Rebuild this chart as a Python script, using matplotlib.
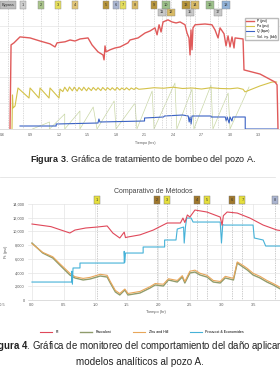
"""
Two stacked well charts from a report page: pumping treatment (Fig. 3)
and damage monitoring with analytical methods (Fig. 4).
"""
import matplotlib
matplotlib.use("Agg")
import matplotlib.pyplot as plt
from matplotlib.lines import Line2D

plt.rcParams['font.family'] = ['Liberation Sans', 'DejaVu Sans']
plt.rcParams['mathtext.fontset'] = 'custom'
plt.rcParams['mathtext.rm'] = 'Liberation Sans'
plt.rcParams['mathtext.bf'] = 'Liberation Sans:bold'

# ==========================================
# Figure 3 data (time in hours)
# ==========================================
t_p = [0.684, 0.695, 0.726, 0.789, 0.895, 1.0, 1.105, 1.158, 1.179, 1.263, 1.316, 1.368,
       1.421, 1.505, 1.547, 1.61, 1.663, 1.674, 1.684, 1.695, 1.737, 1.789, 1.842, 1.926,
       1.947, 2.032, 2.105, 2.158, 2.21, 2.232, 2.253, 2.274, 2.295, 2.347, 2.389, 2.432,
       2.474, 2.526, 2.547, 2.568, 2.579, 2.589, 2.6, 2.61, 2.632, 2.737, 2.81, 2.842,
       2.874, 2.895, 2.937, 2.958, 2.979, 3.0, 3.021, 3.042, 3.053, 3.137, 3.147, 3.316,
       3.474, 3.495, 3.505]
p_psi = [0, 3260, 3340, 3570, 3530, 3410, 3300, 3180, 3340, 3380, 3450, 3410,
         3490, 3530, 3260, 2990, 2870, 2680, 3220, 2990, 3070, 3140, 3180, 3340,
         3450, 3530, 3720, 3800, 3920, 3650, 4040, 3760, 4150, 4230, 4150, 4110,
         4150, 4040, 3720, 3530, 2870, 3840, 3070, 3920, 4040, 4070, 4040, 3840,
         3530, 3920, 3690, 3220, 3610, 3180, 3570, 3140, 3530, 3490, 2290, 2130,
         1820, 1710, 0]

t_pa = [0.705, 0.71, 0.716, 0.737, 0.768, 0.884, 0.895, 0.989, 1.0, 1.095, 1.105, 1.2,
        1.21, 1.24, 1.26, 1.29, 1.31, 1.34, 1.36, 1.39, 1.41, 1.44, 1.46, 1.49, 1.51,
        1.54, 1.56, 1.59, 1.61, 1.64, 1.66, 1.69, 1.71, 1.74, 1.76, 1.79, 1.81, 1.84,
        1.86, 1.89, 1.91, 1.94, 1.96, 1.99, 2.01, 2.04, 2.10, 2.20, 2.30, 2.40, 2.50,
        2.60, 2.70, 2.80, 2.90, 3.00, 3.08, 3.137, 3.158, 3.316, 3.442, 3.49]
pa_psi = [0, 1320, 815, 890, 1590, 1200, 1590, 1200, 1590, 1200, 1590, 1200,
          1550, 1450, 1620, 1460, 1630, 1480, 1620, 1470, 1610, 1490, 1620, 1480, 1600,
          1490, 1610, 1500, 1600, 1490, 1610, 1500, 1600, 1510, 1600, 1500, 1610, 1510,
          1590, 1520, 1600, 1510, 1590, 1530, 1600, 1540, 1560, 1600, 1580, 1620, 1570,
          1590, 1550, 1600, 1570, 1560, 1590, 1540, 1440, 1670, 1820, 1820]

t_q = [0.789, 1.17, 1.17, 1.61, 1.62, 1.63, 2.10, 2.10, 2.30, 2.31, 2.50, 2.56, 2.57,
       2.58, 2.59, 2.60, 2.80, 2.80, 2.95, 2.96, 2.97, 2.99, 3.00, 3.02, 3.03, 3.05,
       3.16, 3.16, 3.50]
q_bpm = [3, 3, 5, 6, 10, 7, 8, 11, 12, 13, 14, 13, 7,
         12, 5, 13, 13, 12, 12, 8, 12, 6, 12, 8, 12, 12,
         12, 0, 0]

t_vol = [0.92, 1.10, 1.10, 1.26, 1.26, 1.42, 1.42, 1.56, 1.60, 1.78, 1.80, 2.00,
         2.02, 2.18, 2.20, 2.42, 2.44, 2.60, 2.62, 2.80, 2.82, 2.98, 3.00, 3.20]
vol_bbl = [0, 7, 0, 15, 0, 18, 0, 22, 0, 28, 0, 26,
           0, 38, 0, 46, 0, 40, 0, 44, 0, 36, 0, 42]

f3_ticks = [0.6, 0.9, 1.2, 1.5, 1.8, 2.1, 2.4, 2.7, 3.0, 3.3]
f3_events = ['Bypass', '1', '2', '3', '4', '5', '6', '7', '8', '9', '10', '11', '12',
             '13', '14', '15', '16', '17', '18']
f3_event_t = [0.663, 0.821, 1.011, 1.189, 1.368, 1.695, 1.80, 1.874, 2.0, 2.2, 2.326,
              2.284, 2.379, 2.537, 2.632, 2.579, 2.789, 2.874, 2.958]
f3_event_row = [0, 0, 0, 0, 0, 0, 0, 0, 0, 0, 0, 1, 1, 0, 0, 1, 0, 1, 0]
f3_event_col = ['#bdbdbd', '#cfcfcf', '#a9c48a', '#e6df5c', '#e2c679', '#b8963c',
                '#aab6d2', '#e6df5c', '#d9bb66', '#b8963c', '#9cc08a', '#c8c8c8',
                '#d9bb66', '#b8963c', '#d9bb66', '#c8c8c8', '#9cc08a', '#c8c8c8',
                '#92b2d8']

# ==========================================
# Figure 4 data (time in hours, pressure in psi)
# ==========================================
t_pt = [0, 0.30, 0.60, 0.68, 0.85, 1.03, 1.19, 1.28, 1.39, 1.46, 1.48, 1.52, 1.71,
        1.92, 2.14, 2.35, 2.39, 2.42, 2.46, 2.50, 2.58, 2.77, 2.98, 3.01, 3.03, 3.09,
        3.25, 3.45, 3.66, 3.88, 3.96]
pt = [11080, 10700, 9770, 10200, 10500, 10640, 10800, 9770, 9040, 9900, 9100, 9190,
      9500, 10200, 11230, 11230, 11950, 11300, 12400, 12100, 13120, 12830, 12100,
      10900, 12300, 12830, 12680, 11950, 10930, 10200, 10100]

t_pe = [0.00, 0.63, 0.63, 0.64, 0.65, 0.76, 0.76, 1.46, 1.46, 1.47, 1.48, 1.76, 1.76,
        2.10, 2.10, 2.28, 2.30, 2.40, 2.41, 2.43, 2.45, 2.52, 2.55, 2.98, 3.00, 3.02,
        3.04, 3.50, 3.52, 3.66, 3.70, 3.96]
prouvost = [2620, 2620, 4200, 2300, 4670, 4670, 5390, 5390, 7100, 5500, 6850, 6850,
            7730, 7730, 8750, 8750, 10350, 10640, 8300, 10700, 11950, 11950, 11370,
            11370, 8310, 11000, 10930, 10930, 9040, 8750, 7870, 7870]

t_m = [0.00, 0.17, 0.33, 0.44, 0.60, 0.68, 0.81, 0.92, 1.08, 1.19, 1.24, 1.32, 1.39,
       1.47, 1.52, 1.71, 1.87, 1.95, 2.08, 2.16, 2.30, 2.38, 2.42, 2.50, 2.58, 2.66,
       2.77, 2.87, 2.98, 3.06, 3.19, 3.25, 3.34, 3.41, 3.50, 3.61, 3.72, 3.82, 3.96]
paccaloni = [8310, 6850, 6120, 5100, 3650, 3210, 2920, 3060, 3500, 3350, 2480, 1170,
             730, 1460, 730, 1020, 1750, 2190, 2040, 2920, 2620, 3350, 2480, 3940,
             4080, 3650, 3350, 2620, 2480, 3210, 2920, 5390, 4810, 4370, 3650, 3210,
             2620, 2190, 1460]
zhu_hill = [8200, 6950, 6300, 5300, 3900, 3400, 3150, 3300, 3750, 3600, 2700, 1400,
            950, 1600, 950, 1250, 1950, 2400, 2300, 3100, 2850, 3550, 2700, 4200,
            4350, 3900, 3600, 2850, 2700, 3450, 3150, 5550, 5050, 4600, 3900, 3450,
            2850, 2400, 1700]

f4_ticks = [0.0, 0.5, 1.0, 1.5, 2.0, 2.5, 3.0, 3.5]
f4_event_t = [1.03, 1.98, 2.14, 2.61, 2.77, 3.17, 3.33, 3.85]
f4_event_lbl = ['1', '2', '3', '4', '5', '6', '7', '8']
f4_event_col = ['#e6df3c', '#a0782c', '#e6df3c', '#a0782c', '#e6df3c', '#a0782c',
                '#e6df3c', '#aab4d0']

W, H = 280, 376
fig = plt.figure(figsize=(W / 100, H / 100), dpi=100)


def box(px_left, px_top, px_w, px_h):
    return [px_left / W, 1 - (px_top + px_h) / H, px_w / W, px_h / H]


# ------------------------------------------
# Figure 3: pumping treatment
# ------------------------------------------
ax3 = fig.add_axes(box(-5, 0, 285, 129))
axq = ax3.twinx()   # rate and volume on a hidden secondary scale
ax3.set_zorder(axq.get_zorder() + 1)
ax3.patch.set_visible(False)

ax3.set_xlim(0.526, 3.526)
ax3.set_ylim(0, 5000)
ax3.set_yticks([1000, 2000, 3000, 4000])
ax3.tick_params(axis='y', left=False, labelleft=False)
ax3.set_xticks(f3_ticks)
ax3.set_xticklabels([f"{v:.1f}" for v in f3_ticks], fontsize=2.6, color='#555555')
ax3.tick_params(axis='x', length=0, pad=3)
ax3.grid(axis='y', color='#e4e4e4', lw=0.5)
for s in ax3.spines.values():
    s.set_visible(False)
ax3.spines['bottom'].set_visible(True)
ax3.spines['bottom'].set_color('#d0d0d0')
ax3.spines['bottom'].set_linewidth(0.5)

axq.set_ylim(0, 129)
axq.axis('off')

for t in f3_event_t:
    ax3.axvline(t, color='#b8b8b8', ls=(0, (1, 1.5)), lw=0.5, zorder=1)
for lbl, t, row, col in zip(f3_events, f3_event_t, f3_event_row, f3_event_col):
    ax3.text(t, 0.962 - 0.058 * row, lbl, transform=ax3.get_xaxis_transform(),
             ha='center', va='center', fontsize=2.8, color='#333333', zorder=6,
             bbox=dict(boxstyle='square,pad=0.45', fc=col, ec='#888888', lw=0.3))

l_v, = axq.plot(t_vol, vol_bbl, color='#c9d7a6', lw=0.5)
l_q, = axq.plot(t_q, q_bpm, color='#3a62c4', lw=0.8)
l_pa, = ax3.plot(t_pa, pa_psi, color='#d4c24a', lw=0.8)
l_p, = ax3.plot(t_p, p_psi, color='#e05a5a', lw=1.0)

ax3.legend([l_p, l_pa, l_q, l_v], ['P (psi)', 'Pa (psi)', 'Q (bpm)', 'Vol. iny. (bbl)'],
           loc='upper left', bbox_to_anchor=(248 / 285, 1 - 16 / 129), fontsize=2.4,
           frameon=True, fancybox=False, edgecolor='#bbbbbb', framealpha=1,
           handlelength=2.5, borderpad=0.4, labelspacing=0.35)

fig.text(145 / W, 1 - 143 / H, 'Tiempo (hrs)', fontsize=2.6, color='#555555',
         ha='center', va='center')
fig.text(143 / W, 1 - 160 / H,
         r'$\mathbf{Figura\ 3}$. Gráfica de tratamiento de bombeo del pozo A.',
         fontsize=6.5, ha='center', va='center', color='#222222')
fig.add_artist(Line2D([0, 275 / W], [1 - 177 / H, 1 - 177 / H], color='#dddddd', lw=0.5))

# ------------------------------------------
# Figure 4: damage monitoring
# ------------------------------------------
ax4 = fig.add_axes(box(28, 204, 256, 96))
ax4.set_xlim(-0.063, 3.99)
ax4.set_ylim(0, 14000)
ax4.set_yticks(range(0, 14001, 2000))
ax4.set_yticklabels([f"{v:,}" for v in range(0, 14001, 2000)], fontsize=2.8,
                    color='#555555')
ax4.set_xticks(f4_ticks)
ax4.set_xticklabels([f"{v:.1f}" for v in f4_ticks], fontsize=2.8, color='#555555')
ax4.tick_params(length=0, pad=2.5)
ax4.grid(color='#e4e4e4', lw=0.5)
for s in ax4.spines.values():
    s.set_visible(False)
ax4.spines['bottom'].set_visible(True)
ax4.spines['bottom'].set_color('#cfcfcf')
ax4.spines['bottom'].set_linewidth(0.5)

for t in f4_event_t:
    ax4.axvline(t, color='#9a9a9a', ls=(0, (1, 1.5)), lw=0.5, zorder=1)
    ax4.plot([t, t], [1.0, 1.03], transform=ax4.get_xaxis_transform(),
             color='#9a9a9a', ls=(0, (1, 1.5)), lw=0.5, clip_on=False)
for lbl, t, col in zip(f4_event_lbl, f4_event_t, f4_event_col):
    ax4.text(t, 1.045, lbl, transform=ax4.get_xaxis_transform(), ha='center',
             va='center', fontsize=2.8, color='#333333', clip_on=False,
             bbox=dict(boxstyle='square,pad=0.5', fc=col, ec='#777777', lw=0.3))

ax4.plot(t_m, paccaloni, color='#8f9c6c', lw=1.0, label='Paccaloni')
ax4.plot(t_m, zhu_hill, color='#e8a65a', lw=0.8, label='Zhu and Hill')
ax4.plot(t_pe, prouvost, color='#46b2d8', lw=0.8, label='Prouvost & Economides')
ax4.plot(t_pt, pt, color='#e0485a', lw=0.8, label='Pt')

ax4.set_title('Comparativo de Métodos', fontsize=5, color='#444444', pad=8, x=0.49)
ax4.set_xlabel('Tiempo (hr)', fontsize=2.8, color='#555555', labelpad=2)
ax4.set_ylabel(r'P$_s$ (psi)', fontsize=2.8, color='#555555', labelpad=2)
fig.text(2 / W, 1 - 305 / H, '-0.5', fontsize=2.8, color='#555555', ha='center',
         va='center')

h, l = ax4.get_legend_handles_labels()
order = [3, 0, 1, 2]
fig.legend([h[i] for i in order], [l[i] for i in order], loc='center',
           bbox_to_anchor=(142 / W, 1 - 332 / H), ncol=4, fontsize=2.6, frameon=False,
           handlelength=3.3, columnspacing=6, handletextpad=1.0)

# the page crop cuts this caption line at both edges, as in the source scan
fig.text(142 / W, 1 - 346 / H,
         r'$\mathbf{Figura\ 4}$. Gráfica de monitoreo del comportamiento del daño aplicando',
         fontsize=6.9, ha='center', va='center', color='#222222')
fig.text(140 / W, 1 - 362 / H, 'modelos analíticos al pozo A.', fontsize=7.1,
         ha='center', va='center', color='#222222')

fig.savefig('out.png', dpi=100)
